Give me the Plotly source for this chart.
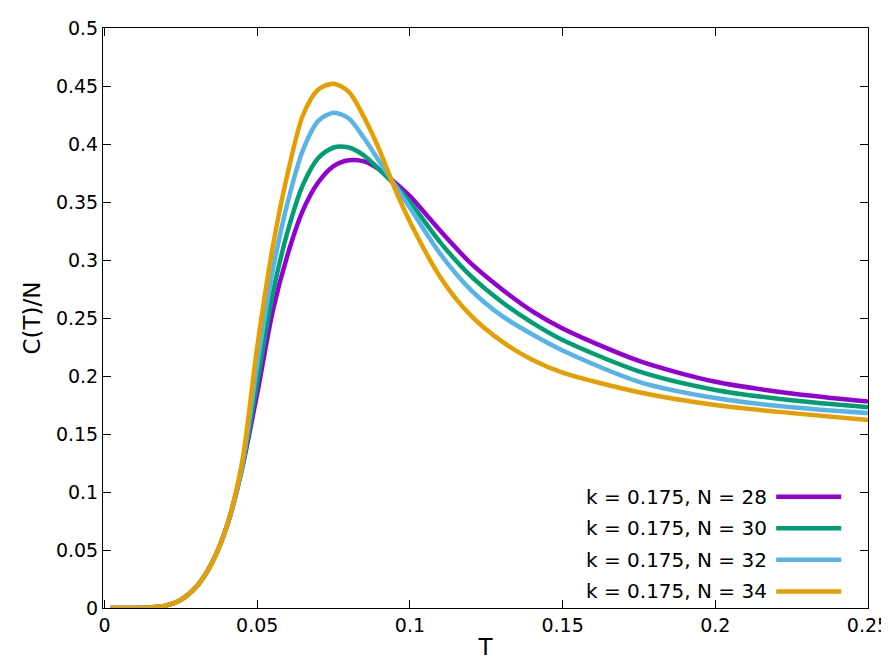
import plotly.graph_objects as go

T = [0.002,0.01,0.015,0.02,0.025,0.03,0.035,0.04,0.045,0.05,0.055,0.06,0.065,0.07,0.075,0.08,0.085,0.09,0.095,0.1,0.11,0.12,0.13,0.14,0.15,0.175,0.2,0.225,0.25]
c28 = [0,0,0.0005,0.002,0.007,0.018,0.038,0.07,0.12,0.185,0.255,0.305,0.343,0.367,0.381,0.386,0.385,0.378,0.367,0.355,0.325,0.297,0.275,0.256,0.241,0.213,0.195,0.185,0.178]
c30 = [0,0,0.0005,0.002,0.007,0.018,0.038,0.07,0.12,0.195,0.27,0.325,0.365,0.388,0.397,0.397,0.39,0.378,0.365,0.35,0.315,0.286,0.264,0.246,0.231,0.204,0.188,0.179,0.173]
c32 = [0,0,0.0005,0.002,0.007,0.018,0.038,0.07,0.122,0.21,0.29,0.35,0.395,0.42,0.427,0.422,0.405,0.385,0.365,0.345,0.305,0.274,0.252,0.236,0.222,0.195,0.181,0.173,0.168]
c34 = [0,0,0.0005,0.002,0.007,0.018,0.038,0.07,0.125,0.225,0.31,0.375,0.425,0.447,0.452,0.445,0.423,0.395,0.362,0.333,0.285,0.252,0.23,0.214,0.203,0.186,0.175,0.168,0.162]
labels = ["k = 0.175, N = 28","k = 0.175, N = 30","k = 0.175, N = 32","k = 0.175, N = 34"]
colors = ["#9400D3","#009E73","#56B4E9","#E69F00"]
xt = [0,0.05,0.1,0.15,0.2,0.25]
xtl = ["0","0.05","0.1","0.15","0.2","0.25"]
yt = [0,0.05,0.1,0.15,0.2,0.25,0.3,0.35,0.4,0.45,0.5]
ytl = ["0","0.05","0.1","0.15","0.2","0.25","0.3","0.35","0.4","0.45","0.5"]

fig = go.Figure()
shapes, annos = [], []
for i,(ys,lab,col) in enumerate(zip([c28,c30,c32,c34],labels,colors)):
    fig.add_trace(go.Scatter(x=T,y=ys,mode="lines",line=dict(color=col,width=4.5,shape="spline",smoothing=0.8),name=lab,showlegend=False))
    yp = 0.192 - i*0.0545
    shapes.append(dict(type="line",xref="paper",yref="paper",x0=0.88,x1=0.965,y0=yp,y1=yp,line=dict(color=col,width=4.5)))
    annos.append(dict(xref="paper",yref="paper",x=0.87,y=yp,text=lab,showarrow=False,xanchor="right",yanchor="middle",font=dict(size=20)))
ax = dict(showline=True,mirror="ticks",linecolor="black",linewidth=1,ticks="inside",ticklen=8,tickcolor="black",showgrid=False,zeroline=False,automargin=False)
fig.update_layout(width=889,height=667,margin=dict(l=95,r=29,t=20,b=67),plot_bgcolor="white",paper_bgcolor="white",
    font=dict(family="DejaVu Sans",size=19,color="black"),shapes=shapes,annotations=annos,
    xaxis=dict(range=[-0.0005,0.25],tickvals=xt,ticktext=xtl,title=dict(text="T",standoff=4),**ax),
    yaxis=dict(range=[0,0.5],tickvals=yt,ticktext=ytl,title=dict(text="C(T)/N",standoff=8),**ax))
fig.write_html("out.html")
